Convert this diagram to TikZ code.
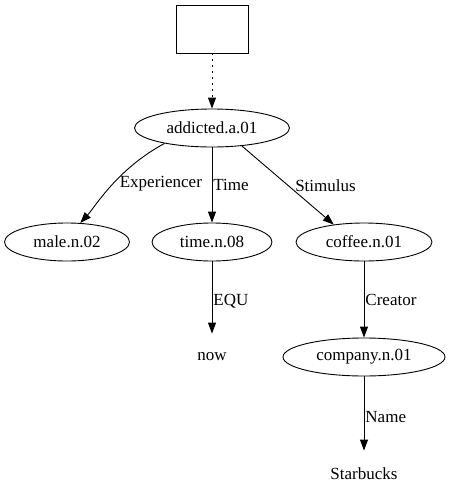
\documentclass[tikz,border=0pt]{standalone}
\usepackage{fontspec}
\setmainfont{Liberation Serif}
\usetikzlibrary{arrows.meta,shapes.geometric}
\begin{document}
\begin{tikzpicture}[x=1pt,y=1pt,line width=0.9pt,font=\fontsize{17}{19}\selectfont,
  concept/.style={draw,ellipse,minimum height=38pt,inner sep=0pt},
  plain/.style={minimum height=46pt,inner sep=0pt},
  rel/.style={-{Triangle[length=11pt,width=8pt]}},
  lbl/.style={right,inner sep=1pt}]
\useasboundingbox (0,0) rectangle (451,-504);
\node[draw,minimum width=72pt,minimum height=48pt] (root) at (212,-29) {};
\node[concept,minimum width=155pt] (addicted) at (212,-128) {addicted.a.01};
\node[concept,minimum width=125pt] (male) at (67,-242) {male.n.02};
\node[concept,minimum width=120pt] (time) at (212,-242) {time.n.08};
\node[concept,minimum width=136pt] (coffee) at (364,-242) {coffee.n.01};
\node[plain] (now) at (212,-357) {now};
\node[concept,minimum width=162pt] (company) at (364,-357) {company.n.01};
\node[plain] (starbucks) at (364,-474) {Starbucks};
\draw[rel,dash pattern=on 1.5pt off 4.5pt] (root) -- (addicted);
\draw[rel] (addicted.-162) .. controls (117,-169) and (95,-207) .. (male.55) node[pos=0.46,anchor=west,inner sep=6pt] {Experiencer};
\draw[rel] (addicted) -- (time) node[pos=0.5,lbl] {Time};
\draw[rel] (addicted.-31) -- (coffee.150) node[pos=0.5,anchor=west,inner sep=7pt] {Stimulus};
\draw[rel] (time) -- (now) node[pos=0.55,lbl] {EQU};
\draw[rel] (coffee) -- (company) node[pos=0.5,lbl] {Creator};
\draw[rel] (company) -- (starbucks) node[pos=0.55,lbl] {Name};
\end{tikzpicture}
\end{document}
